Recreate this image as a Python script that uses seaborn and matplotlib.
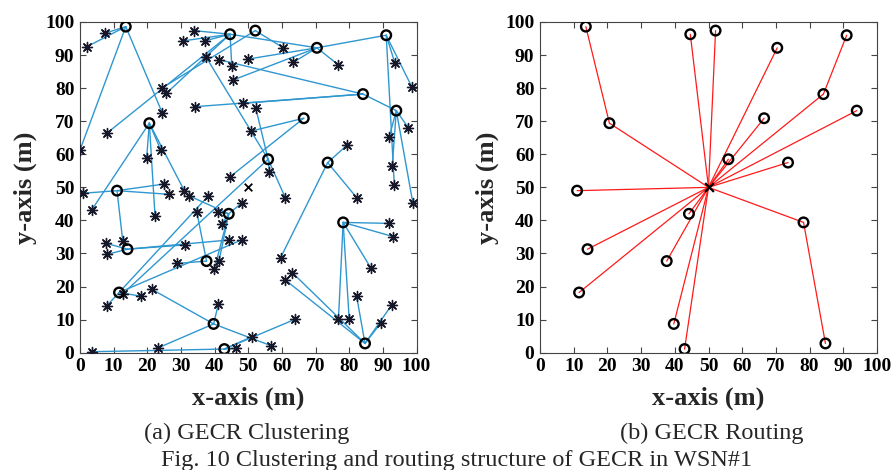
import matplotlib
matplotlib.use("Agg")
import matplotlib.pyplot as plt
import pandas as pd
import seaborn as sns

# Cluster-head positions (m); the same heads appear in both views
head_x = [13.6, 44.6, 52.1, 70.4, 91.0, 84.1, 94.0, 66.5, 20.6, 55.9,
          73.6, 11.0, 44.2, 78.2, 14.1, 37.6, 11.6, 39.7, 42.9, 84.7]
head_y = [98.6, 96.3, 97.4, 92.2, 96.0, 78.2, 73.2, 70.9, 69.4, 58.5,
          57.5, 49.0, 42.0, 39.4, 31.3, 27.7, 18.2, 8.7, 1.1, 2.8]
# Next hop of every head on its way to the base station (-1 = base station)
next_hop = [8, -1, -1, -1, 5, -1, -1, -1, -1, -1,
            -1, -1, -1, -1, -1, -1, -1, -1, -1, 13]
# Base station
sink_x = [50.0]
sink_y = [50.0]

# Ordinary sensor nodes and the cluster head each one joined
member_x = [2.0, 7.4, 24.5, 0.0,
            33.9, 30.7, 37.1, 25.6, 7.9, 45.1,
            24.3, 60.4,
            50.0, 63.4, 76.8, 45.6,
            93.6, 98.6, 93.4,
            41.3, 34.2, 48.5,
            97.6, 91.9, 92.8, 98.9,
            50.8, 44.6,
            24.0, 19.8, 3.5, 22.3, 31.0,
            37.4, 52.2, 56.3, 61.0, 12.7,
            79.4, 82.2, 59.6,
            25.0, 26.4, 0.8, 12.7,
            32.5, 40.9, 42.1, 48.0, 41.3, 39.9,
            91.8, 93.1, 86.5, 76.8, 80.0,
            7.7, 7.9, 31.2, 44.4,
            34.7, 28.9,
            48.0, 38.1, 7.9, 18.1,
            21.3, 23.3, 41.1, 56.8,
            3.5, 46.3, 51.0, 63.9,
            61.0, 63.1, 82.2, 92.6, 89.5]
member_y = [92.5, 96.6, 72.4, 61.3,
            97.4, 94.3, 94.3, 78.4, 66.3, 86.7,
            80.0, 92.2,
            88.8, 87.8, 87.0, 82.5,
            87.5, 80.4, 50.7,
            88.6, 74.4, 75.4,
            68.0, 65.3, 56.5, 45.4,
            67.0, 53.2,
            61.3, 58.8, 43.2, 41.3, 49.0,
            89.5, 74.1, 54.7, 46.9, 17.8,
            62.8, 46.9, 28.7,
            51.0, 47.9, 48.2, 33.8,
            47.4, 42.6, 38.8, 45.2, 27.7, 25.2,
            39.1, 35.1, 25.5, 10.1, 10.1,
            33.1, 29.7, 32.6, 34.1,
            42.6, 27.0,
            34.1, 47.4, 14.1, 17.1,
            19.2, 1.5, 14.6, 2.1,
            0.3, 1.3, 4.8, 10.1,
            22.0, 24.2, 17.1, 14.4, 9.1]
member_head = [0, 0, 0, 0,
               1, 1, 1, 1, 1, 1,
               2, 2,
               3, 3, 3, 3,
               4, 4, 4,
               5, 5, 5,
               6, 6, 6, 6,
               7, 7,
               8, 8, 8, 8, 8,
               9, 9, 9, 9, 9,
               10, 10, 10,
               11, 11, 11, 11,
               12, 12, 12, 12, 12, 12,
               13, 13, 13, 13, 13,
               14, 14, 14, 14,
               15, 15,
               16, 16, 16, 16,
               17, 17, 17, 17,
               18, 18, 18, 18,
               19, 19, 19, 19, 19]
# Head-to-head links drawn in the clustering view
head_links = [(3, 4), (5, 6), (1, 3)]

ticks = [0, 10, 20, 30, 40, 50, 60, 70, 80, 90, 100]

# ---- segment tables -------------------------------------------------------
rows = []
seg = 0
for mx, my, h in zip(member_x, member_y, member_head):
    rows.append((seg, mx, my))
    rows.append((seg, head_x[h], head_y[h]))
    seg += 1
for i, j in head_links:
    rows.append((seg, head_x[i], head_y[i]))
    rows.append((seg, head_x[j], head_y[j]))
    seg += 1
cluster_edges = pd.DataFrame(rows, columns=["seg", "x", "y"])

rows = []
for i, nh in enumerate(next_hop):
    tx, ty = (sink_x[0], sink_y[0]) if nh < 0 else (head_x[nh], head_y[nh])
    rows.append((i, head_x[i], head_y[i]))
    rows.append((i, tx, ty))
route_edges = pd.DataFrame(rows, columns=["seg", "x", "y"])

# ---- style ----------------------------------------------------------------
sns.set_theme(style="ticks")
plt.rcParams["font.family"] = ["Liberation Serif", "DejaVu Serif"]

fig = plt.figure(figsize=(8.95, 4.70), dpi=100)
bottom = (470 - 352.7) / 470
height = 330.7 / 470
axL = fig.add_axes([80 / 895, bottom, 336.5 / 895, height])
axR = fig.add_axes([540 / 895, bottom, 337 / 895, height])

BLUE = "#2f97d0"
RED = "#ff1a1a"
STAR = "#16182a"


def draw_heads(ax):
    sns.scatterplot(x=head_x, y=head_y, marker="o", s=48, color="black",
                    linewidth=1.7, ax=ax, zorder=5, legend=False)
    coll = ax.collections[-1]
    coll.set_facecolor("none")
    coll.set_edgecolor("black")


# (a) clustering
sns.lineplot(data=cluster_edges, x="x", y="y", units="seg", estimator=None,
             sort=False, color=BLUE, linewidth=1.0, ax=axL, legend=False,
             zorder=2)
sns.scatterplot(x=member_x, y=member_y, marker=(8, 2, 0), s=52, color=STAR,
                linewidth=1.0, ax=axL, zorder=4, legend=False)
draw_heads(axL)
sns.scatterplot(x=sink_x, y=sink_y, marker="x", s=30, color="black",
                linewidth=1.3, ax=axL, zorder=5, legend=False)

# (b) routing
sns.lineplot(data=route_edges, x="x", y="y", units="seg", estimator=None,
             sort=False, color=RED, linewidth=0.9, ax=axR, legend=False,
             zorder=2)
draw_heads(axR)
sns.scatterplot(x=sink_x, y=sink_y, marker="x", s=40, color="black",
                linewidth=1.6, ax=axR, zorder=5, legend=False)

for ax, ylab_x in ((axL, -0.128), (axR, -0.122)):
    ax.set_xlim(0, 100)
    ax.set_ylim(0, 100)
    ax.set_xticks(ticks)
    ax.set_yticks(ticks)
    ax.set_xticklabels([str(t) for t in ticks], fontsize=14, fontweight="bold")
    ax.set_yticklabels([str(t) for t in ticks], fontsize=14, fontweight="bold")
    ax.tick_params(direction="in", top=True, right=True, length=4,
                   width=0.8, color="#444444", pad=4, labelcolor="black")
    for sp in ax.spines.values():
        sp.set_color("#444444")
        sp.set_linewidth(0.8)
    ax.set_xlabel("x-axis (m)", fontsize=19, fontweight="bold")
    ax.set_ylabel("y-axis (m)", fontsize=19, fontweight="bold")
    ax.xaxis.set_label_coords(0.5, -0.102)
    ax.yaxis.set_label_coords(ylab_x, 0.5)
    ax.set_facecolor("white")

fig.text(246.7 / 895, (470 - 439) / 470, "(a) GECR Clustering",
         ha="center", va="baseline", fontsize=17.5)
fig.text(712 / 895, (470 - 439) / 470, "(b) GECR Routing",
         ha="center", va="baseline", fontsize=17.5)
fig.text(457 / 895, (470 - 466) / 470,
         "Fig. 10 Clustering and routing structure of GECR in WSN#1",
         ha="center", va="baseline", fontsize=17.5)

fig.savefig("out.png", dpi=100, facecolor="white")
